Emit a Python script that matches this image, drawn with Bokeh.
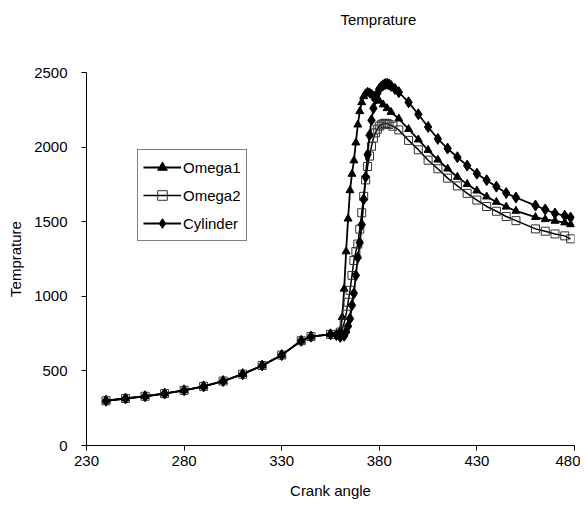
from bokeh.plotting import figure
from bokeh.models import FixedTicker, Legend, LegendItem, LinearAxis, Range1d
from bokeh.embed import file_html
from bokeh.resources import INLINE

# ---- data ----
title_text = "Temprature"
x_ticks = [230, 280, 330, 380, 430, 480]
y_ticks = [0, 500, 1000, 1500, 2000, 2500]

omega1_x = [240, 250, 260, 270, 280, 290, 300, 310, 320, 330, 340, 345, 355,
            360, 361, 362, 363, 364, 365, 366, 367, 368, 369, 370, 371, 372,
            373, 374, 375, 376, 377, 378, 380, 382, 384, 386, 390, 395, 400,
            405, 410, 415, 420, 425, 430, 435, 440, 445, 450, 460, 465, 470,
            475, 478]
omega1_t = [300, 315, 330, 348, 370, 396, 432, 478, 536, 606, 702, 730, 745,
            770, 860, 1050, 1300, 1520, 1710, 1820, 1910, 2030, 2150, 2240, 2300, 2340,
            2360, 2370, 2366, 2356, 2345, 2330, 2310, 2285, 2260, 2235, 2190, 2120, 2050,
            1980, 1915, 1855, 1800, 1752, 1708, 1668, 1632, 1600, 1572, 1530, 1516, 1505,
            1494, 1482]

omega2_x = [240, 250, 260, 270, 280, 290, 300, 310, 320, 330, 340, 345, 355,
            360, 362, 363, 364, 365, 366, 367, 368, 369, 370, 371, 372, 373,
            374, 375, 376, 377, 378, 379, 380, 381, 382, 383, 384, 385, 387,
            390, 395, 400, 405, 410, 415, 420, 425, 430, 435, 440, 445, 450,
            460, 465, 470, 475, 478]
omega2_t = [300, 315, 330, 348, 370, 396, 432, 478, 536, 606, 702, 730, 745,
            760, 820, 880, 960, 1040, 1140, 1240, 1300, 1350, 1450, 1560, 1670, 1780,
            1870, 1940, 2005, 2060, 2095, 2120, 2140, 2150, 2157, 2160, 2158, 2152, 2140,
            2115, 2045, 1982, 1912, 1855, 1792, 1740, 1690, 1645, 1602, 1570, 1535, 1507,
            1452, 1436, 1418, 1405, 1385]

cyl_x = [240, 250, 260, 270, 280, 290, 300, 310, 320, 330, 340, 345, 355,
         358, 360, 362, 363, 364, 365, 366, 367, 368, 369, 370, 371, 372,
         373, 374, 375, 376, 377, 378, 379, 380, 381, 382, 383, 384, 385,
         386, 388, 390, 395, 400, 405, 410, 415, 420, 425, 430, 435, 440,
         445, 450, 460, 465, 470, 475, 478]
cyl_t = [300, 315, 330, 348, 370, 396, 432, 478, 536, 606, 702, 730, 745,
         740, 728, 735, 760, 800, 850, 940, 1020, 1140, 1260, 1360, 1480, 1650,
         1800, 1950, 2080, 2180, 2260, 2320, 2360, 2390, 2405, 2415, 2422, 2425, 2420,
         2410, 2390, 2368, 2300, 2220, 2135, 2055, 1990, 1932, 1876, 1822, 1778, 1735,
         1692, 1662, 1608, 1582, 1555, 1540, 1528]

FONT = "Liberation Sans"

p = figure(frame_width=488, frame_height=373,
           min_border_left=86, min_border_right=6,
           min_border_top=72, min_border_bottom=56,
           x_range=Range1d(230, 480), y_range=Range1d(0, 2500),
           output_backend="svg", toolbar_location=None,
           background_fill_color="white", border_fill_color="white")
p.outline_line_color = None
p.grid.visible = False

xax = p.below[0]
yax = p.left[0]
for ax in (xax, yax):
    ax.axis_line_color = "black"
    ax.major_tick_line_color = "black"
    ax.minor_tick_line_color = None
    ax.major_tick_in = 0
    ax.major_tick_out = 5
    ax.major_label_text_font = FONT
    ax.major_label_text_font_size = "15px"
    ax.major_label_text_color = "black"
    ax.axis_label_text_font = FONT
    ax.axis_label_text_font_size = "15px"
    ax.axis_label_text_font_style = "normal"
    ax.axis_label_text_color = "black"

xax.ticker = FixedTicker(ticks=x_ticks)
yax.ticker = FixedTicker(ticks=y_ticks)
xax.axis_label = "Crank angle"
yax.axis_label = "Temprature"
xax.major_label_standoff = 5
yax.major_label_standoff = 14
xax.axis_label_standoff = 13
yax.axis_label_standoff = 7

# chart title
p.title.text = title_text
p.title.align = "left"
p.title.offset = 254
p.title.standoff = 0
p.title.text_font = FONT
p.title.text_font_size = "15px"
p.title.text_font_style = "normal"
p.title.text_color = "black"

# invisible spacer between the frame and the title: one white tick, blank label
spacer = LinearAxis(ticker=FixedTicker(ticks=[235]), axis_line_color=None,
                    major_tick_line_color="white", minor_tick_line_color=None,
                    major_tick_in=0, major_tick_out=41, minor_tick_out=0,
                    major_label_standoff=0, major_label_text_font_size="1px",
                    major_label_text_color="white",
                    major_label_overrides={235: " "}, axis_label=None)
p.add_layout(spacer, "above")

l1 = p.line(omega1_x, omega1_t, line_color="black", line_width=1.8)
m1 = p.scatter(omega1_x, omega1_t, marker="triangle", size=8,
               fill_color="black", line_color="black")
l2 = p.line(omega2_x, omega2_t, line_color="black", line_width=1.5)
m2 = p.scatter(omega2_x, omega2_t, marker="square", size=8,
               fill_color=None, line_color="#333333", line_width=1)
l3 = p.line(cyl_x, cyl_t, line_color="black", line_width=1.8)
m3 = p.scatter(cyl_x, cyl_t, marker="diamond", size=11,
               fill_color="black", line_color="black")

legend = Legend(items=[LegendItem(label="Omega1", renderers=[l1, m1]),
                       LegendItem(label="Omega2", renderers=[l2, m2]),
                       LegendItem(label="Cylinder", renderers=[l3, m3])],
                location=(51, 204))
legend.border_line_color = "black"
legend.border_line_width = 1
legend.background_fill_color = "white"
legend.background_fill_alpha = 1
legend.label_text_font = FONT
legend.label_text_font_size = "15px"
legend.label_text_color = "black"
legend.glyph_width = 38
legend.glyph_height = 24
legend.label_height = 24
legend.spacing = 4
legend.padding = 5
legend.margin = 0
legend.label_standoff = 2
p.add_layout(legend, "center")

open("out.html", "w").write(file_html(p, INLINE))
